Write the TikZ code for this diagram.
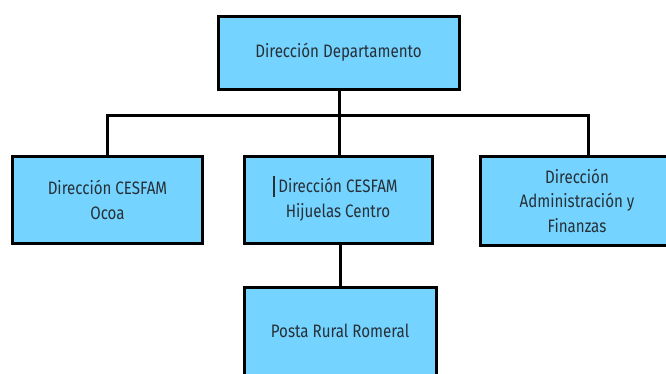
\documentclass[tikz,border=0pt]{standalone}
\usepackage{fontspec}
\setmainfont[FakeStretch=0.84]{Fira Sans}
\definecolor{boxfill}{RGB}{117,211,255}
\definecolor{boxtext}{RGB}{38,48,54}
\begin{document}
\begin{tikzpicture}[x=1pt,y=-1pt,
  orgbox/.style={draw=black, line width=3pt, fill=boxfill, rectangle, inner sep=0pt,
    align=center, text=boxtext, font=\fontsize{18}{24.5}\selectfont},
  link/.style={draw=black, line width=3pt, line join=miter}]
\useasboundingbox (0,0) rectangle (666,373);
\fill[white] (0,0) rectangle (666,373);
\node[orgbox, minimum width=241pt, minimum height=73pt] (top) at (338.5,52.5) {Dirección Departamento};
\node[orgbox, minimum width=190pt, minimum height=87pt] (left) at (107.5,200) {Dirección CESFAM\\Ocoa};
\node[orgbox, minimum width=188pt, minimum height=87pt] (mid) at (338,199.5) {Dirección CESFAM\\Hijuelas Centro};
\node[orgbox, minimum width=193pt, minimum height=89pt] (right) at (577,200.5) {Dirección\\Administración y\\Finanzas};
\node[orgbox, minimum width=192pt, minimum height=94pt] (bottom) at (340,334.5) {\raisebox{7pt}{Posta Rural Romeral}};
\coordinate (j) at (339,115);
\draw[link] (top.south -| j) -- (j);
\draw[link] (left.north) |- (j) -| ([xshift=11pt]right.north);
\draw[link] (mid.north -| j) -- (j);
\draw[link] (bottom.north) -- (bottom.north |- mid.south);
\draw[line width=1.2pt, boxtext] (274,176) -- (274,197);
\end{tikzpicture}
\end{document}
